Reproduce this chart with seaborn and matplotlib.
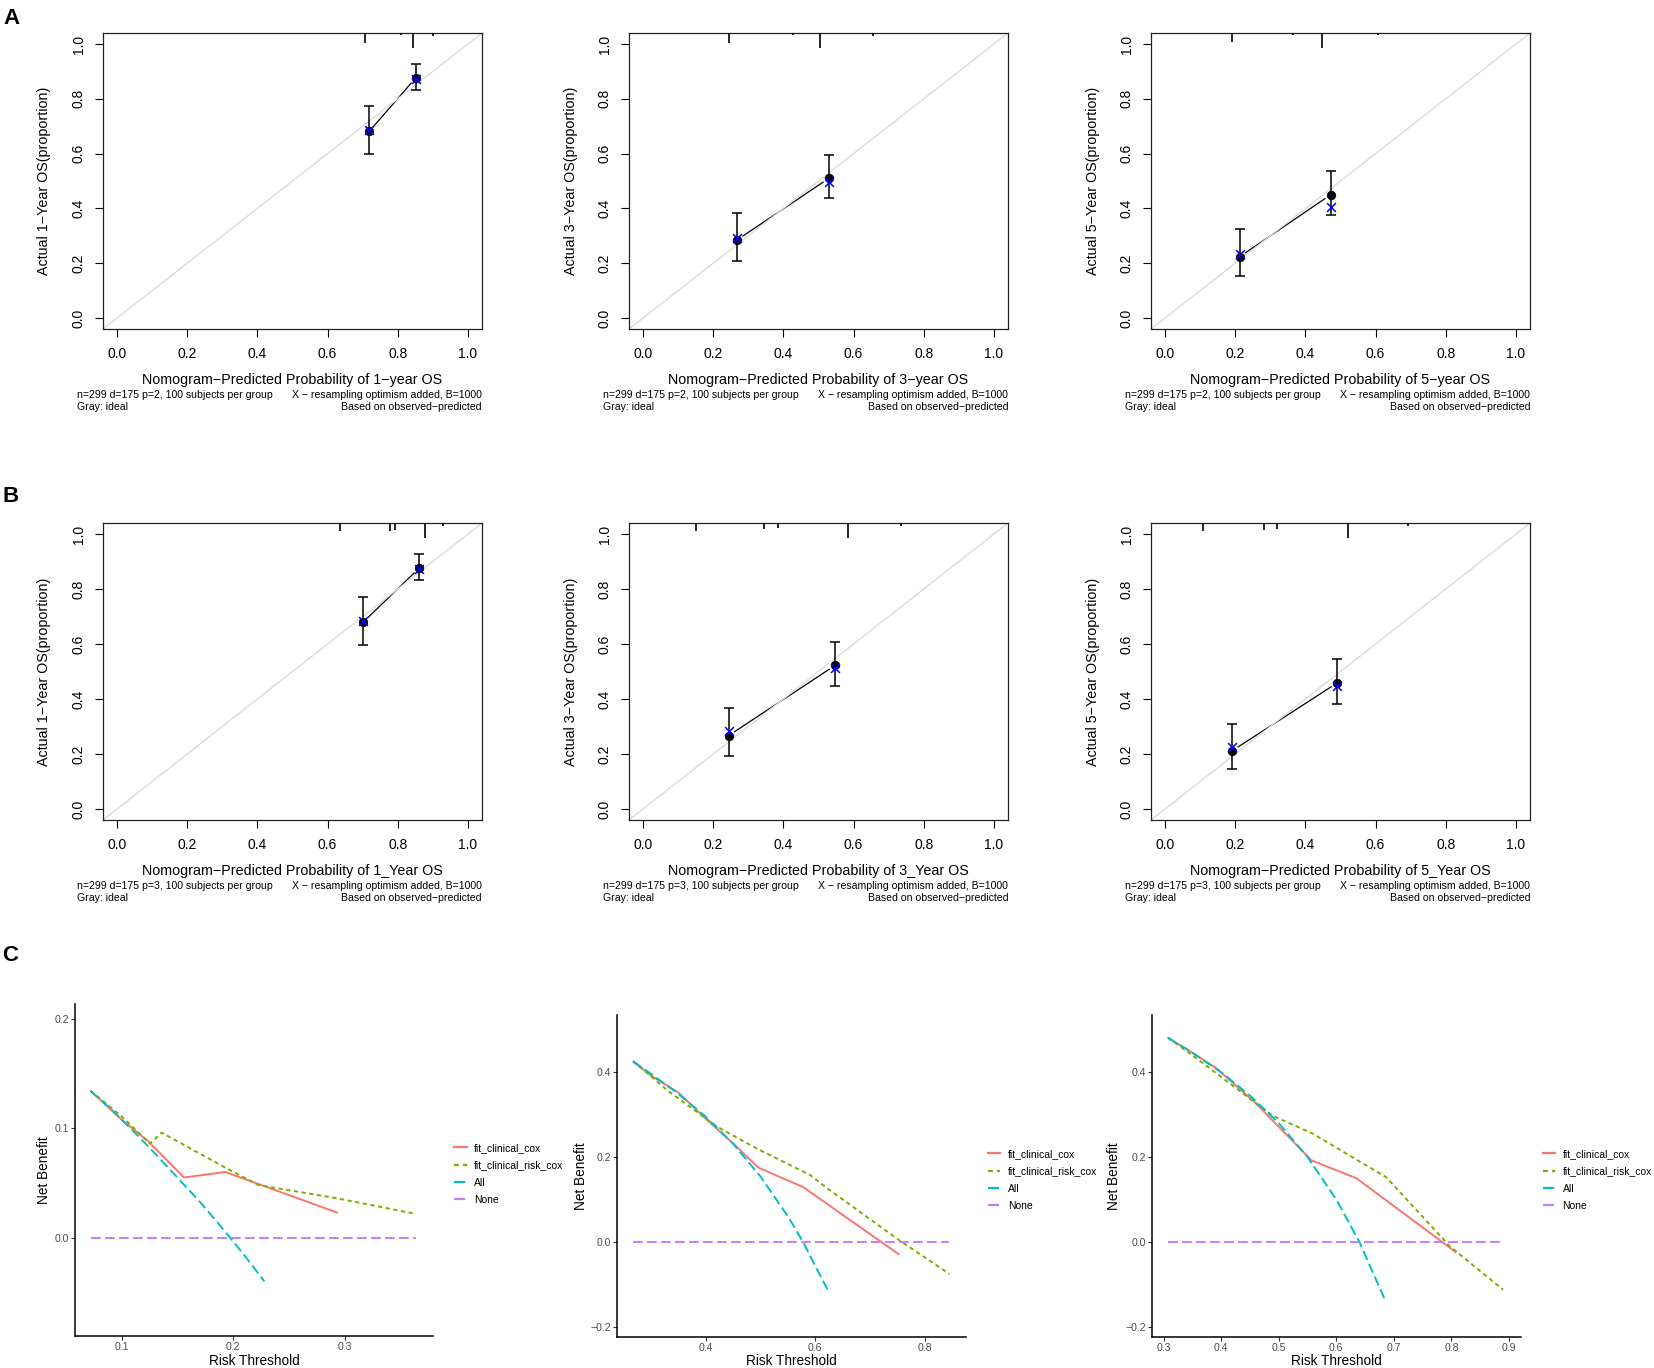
import matplotlib
matplotlib.use("Agg")
import matplotlib.pyplot as plt
from matplotlib.lines import Line2D
import numpy as np
import pandas as pd
import seaborn as sns

W, H, DPI = 1654, 1368, 100
plt.rcParams["font.family"] = ["Liberation Sans", "DejaVu Sans"]

# ---------------- Calibration data (rows A: p=2 model, B: p=3 model) ----------------
A_pred = [[0.7185, 0.851], [0.268, 0.5295], [0.213, 0.472]]
A_obs = [[0.681, 0.876], [0.285, 0.510], [0.224, 0.450]]
A_lo = [[0.599, 0.833], [0.207, 0.438], [0.152, 0.376]]
A_hi = [[0.772, 0.927], [0.384, 0.595], [0.324, 0.537]]
A_corr = [[0.685, 0.873], [0.291, 0.495], [0.233, 0.404]]
A_spike_x = [[0.707, 0.809, 0.844, 0.901], [0.246, 0.426, 0.504, 0.654], [0.191, 0.366, 0.447, 0.608]]
A_spike_h = [[0.65, 0.13, 1.0, 0.2], [0.65, 0.13, 1.0, 0.2], [0.62, 0.13, 1.0, 0.15]]

B_pred = [[0.701, 0.861], [0.244, 0.547], [0.1915, 0.490]]
B_obs = [[0.679, 0.876], [0.267, 0.522], [0.212, 0.458]]
B_lo = [[0.598, 0.834], [0.194, 0.446], [0.1455, 0.383]]
B_hi = [[0.770, 0.927], [0.366, 0.606], [0.309, 0.547]]
B_corr = [[0.682, 0.874], [0.282, 0.512], [0.2255, 0.4485]]
B_spike_x = [[0.635, 0.777, 0.791, 0.877, 0.929], [0.152, 0.345, 0.385, 0.583, 0.735], [0.107, 0.282, 0.318, 0.521, 0.692]]
B_spike_h = [[0.53, 0.53, 0.47, 1.0, 0.2], [0.53, 0.4, 0.33, 1.0, 0.2], [0.53, 0.47, 0.4, 1.0, 0.2]]

A_xlabels = ["Nomogram\u2212Predicted Probability of 1\u2212year OS",
             "Nomogram\u2212Predicted Probability of 3\u2212year OS",
             "Nomogram\u2212Predicted Probability of 5\u2212year OS"]
B_xlabels = ["Nomogram\u2212Predicted Probability of 1_Year OS",
             "Nomogram\u2212Predicted Probability of 3_Year OS",
             "Nomogram\u2212Predicted Probability of 5_Year OS"]
ylabels = ["Actual 1\u2212Year OS(proportion)", "Actual 3\u2212Year OS(proportion)",
           "Actual 5\u2212Year OS(proportion)"]
A_sub = "n=299 d=175 p=2, 100 subjects per group"
B_sub = "n=299 d=175 p=3, 100 subjects per group"
sub_right1 = "X \u2212 resampling optimism added, B=1000"
sub_left2 = "Gray: ideal"
sub_right2 = "Based on observed\u2212predicted"
cal_ticks = [0.0, 0.2, 0.4, 0.6, 0.8, 1.0]
cal_ticklabels = ["0.0", "0.2", "0.4", "0.6", "0.8", "1.0"]

# ---------------- Decision curve data ----------------
models = ["fit_clinical_cox", "fit_clinical_risk_cox", "All", "None"]

C1_cox_x = [0.0725, 0.100, 0.124, 0.156, 0.193, 0.293]
C1_cox_y = [0.134, 0.108, 0.088, 0.055, 0.060, 0.023]
C1_risk_x = [0.0725, 0.100, 0.1255, 0.136, 0.193, 0.223, 0.293, 0.364]
C1_risk_y = [0.134, 0.111, 0.086, 0.096, 0.064, 0.048, 0.036, 0.0216]
C1_all_x = [0.0725, 0.09, 0.11, 0.13, 0.15, 0.17, 0.19, 0.21, 0.228]
C1_all_y = [0.134, 0.118, 0.098, 0.077, 0.055, 0.033, 0.009, -0.016, -0.040]
C1_none_x = [0.0725, 0.364]
C1_none_y = [0.0, 0.0]

C2_cox_x = [0.2675, 0.30, 0.35, 0.40, 0.45, 0.496, 0.578, 0.752]
C2_cox_y = [0.425, 0.392, 0.352, 0.290, 0.232, 0.175, 0.129, -0.029]
C2_risk_x = [0.2675, 0.33, 0.42, 0.496, 0.59, 0.623, 0.754, 0.845]
C2_risk_y = [0.426, 0.357, 0.272, 0.218, 0.158, 0.125, 0.003, -0.076]
C2_all_x = [0.2675, 0.30, 0.35, 0.40, 0.45, 0.50, 0.55, 0.5775, 0.60, 0.622]
C2_all_y = [0.425, 0.396, 0.349, 0.295, 0.231, 0.154, 0.060, 0.0, -0.057, -0.112]
C2_none_x = [0.2675, 0.845]
C2_none_y = [0.0, 0.0]

C3_cox_x = [0.308, 0.35, 0.392, 0.46, 0.557, 0.635, 0.807]
C3_cox_y = [0.481, 0.446, 0.409, 0.327, 0.192, 0.150, -0.024]
C3_risk_x = [0.308, 0.35, 0.392, 0.4536, 0.49, 0.558, 0.687, 0.7975, 0.8897]
C3_risk_y = [0.481, 0.440, 0.397, 0.334, 0.297, 0.256, 0.152, -0.011, -0.113]
C3_all_x = [0.308, 0.35, 0.40, 0.45, 0.50, 0.55, 0.60, 0.64, 0.684]
C3_all_y = [0.481, 0.446, 0.400, 0.345, 0.280, 0.200, 0.100, 0.0, -0.135]
C3_none_x = [0.308, 0.8897]
C3_none_y = [0.0, 0.0]

C1_xticks = [0.1, 0.2, 0.3]
C1_xticklabels = ["0.1", "0.2", "0.3"]
C1_yticks = [0.0, 0.1, 0.2]
C1_yticklabels = ["0.0", "0.1", "0.2"]
C2_xticks = [0.4, 0.6, 0.8]
C2_xticklabels = ["0.4", "0.6", "0.8"]
C23_yticks = [-0.2, 0.0, 0.2, 0.4]
C23_yticklabels = ["\u22120.2", "0.0", "0.2", "0.4"]
C3_xticks = [0.3, 0.4, 0.5, 0.6, 0.7, 0.8, 0.9]
C3_xticklabels = ["0.3", "0.4", "0.5", "0.6", "0.7", "0.8", "0.9"]

palette = {"fit_clinical_cox": "#F8766D", "fit_clinical_risk_cox": "#7CAE00",
           "All": "#00BFC4", "None": "#C77CFF"}
dash_map = {"fit_clinical_cox": "", "fit_clinical_risk_cox": (2.2, 1.8),
            "All": (5.0, 2.2), "None": (5.0, 2.2)}


def rect(l, r, t, b):
    return [l / W, 1 - b / H, (r - l) / W, (b - t) / H]


def fx(px):
    return px / W


def fy(py):
    return 1 - py / H


fig = plt.figure(figsize=(W / DPI, H / DPI), dpi=DPI)


def calib_panel(l, r, t, b, pred, obs, lo, hi, corr, sx, sh, xlabel, ylabel, sub1):
    ax = fig.add_axes(rect(l, r, t, b))
    ax.set_xlim(-0.04, 1.04)
    ax.set_ylim(-0.04, 1.04)
    pred = np.asarray(pred); obs = np.asarray(obs)
    lo = np.asarray(lo); hi = np.asarray(hi)
    # spike histogram of predicted risks at the top
    ax.vlines(sx, 1.04 - np.asarray(sh) * 0.055, 1.04, color="black", lw=1.2, zorder=3)
    # connecting line (type = "b": gaps around the points)
    p = ax.transData.transform(np.column_stack([pred, obs]))
    d = p[1] - p[0]
    u = d / np.hypot(*d)
    gap = 7.0
    seg = ax.transData.inverted().transform(np.array([p[0] + u * gap, p[1] - u * gap]))
    ax.plot(seg[:, 0], seg[:, 1], color="black", lw=0.9, zorder=2)
    # ideal line
    ax.plot([-0.04, 1.04], [-0.04, 1.04], color="#dcdcdc", lw=1.0, zorder=2.5)
    ax.errorbar(pred, obs, yerr=[obs - lo, hi - obs], fmt="none", ecolor="black",
                elinewidth=1.1, capsize=3.5, capthick=1.1, zorder=3)
    sns.scatterplot(x=pred, y=obs, color="black", s=38, marker="o", edgecolor="black",
                    linewidth=0.5, ax=ax, zorder=4, legend=False)
    sns.scatterplot(x=pred, y=np.asarray(corr), color="#0000FF", s=40, marker="x",
                    linewidth=1.1, ax=ax, zorder=5, legend=False)
    ax.set_xticks(cal_ticks, labels=cal_ticklabels, fontsize=10)
    ax.set_yticks(cal_ticks, labels=cal_ticklabels, fontsize=10, rotation=90, va="center")
    ax.tick_params(axis="x", length=6, width=0.8, pad=7.3)
    ax.tick_params(axis="y", length=6, width=0.8, pad=6.3)
    for s in ax.spines.values():
        s.set_linewidth(0.9)
        s.set_color("#222222")
    ax.set_xlabel("")
    ax.set_ylabel("")
    cx = (l + r) / 2
    fig.text(fx(l - 58.5), fy((t + b) / 2), ylabel, rotation=90, ha="center", va="center", fontsize=10.3)
    fig.text(fx(cx), fy(b + 51), xlabel, ha="center", va="center", fontsize=10.3)
    fig.text(fx(l - 26), fy(b + 66), sub1, ha="left", va="center", fontsize=7.6)
    fig.text(fx(r), fy(b + 66), sub_right1, ha="right", va="center", fontsize=7.6)
    fig.text(fx(l - 26), fy(b + 78), sub_left2, ha="left", va="center", fontsize=7.6)
    fig.text(fx(r), fy(b + 78), sub_right2, ha="right", va="center", fontsize=7.6)
    return ax


cols = [(103, 482), (629, 1008), (1151, 1530)]
for i, (l, r) in enumerate(cols):
    calib_panel(l, r, 33, 329, A_pred[i], A_obs[i], A_lo[i], A_hi[i], A_corr[i],
                A_spike_x[i], A_spike_h[i], A_xlabels[i], ylabels[i], A_sub)
    calib_panel(l, r, 523, 820, B_pred[i], B_obs[i], B_lo[i], B_hi[i], B_corr[i],
                B_spike_x[i], B_spike_h[i], B_xlabels[i], ylabels[i], B_sub)


def dca_panel(box, curves, xlim, ylim, xticks, xtl, yticks, ytl, ylab_x, leg_x, leg_y):
    l, r, t, b = box
    ax = fig.add_axes(rect(l, r, t, b))
    frames = []
    for m in models:
        xs, ys = curves[m]
        frames.append(pd.DataFrame({"threshold": xs, "net_benefit": ys, "model": m}))
    df = pd.concat(frames, ignore_index=True)
    sns.lineplot(data=df, x="threshold", y="net_benefit", hue="model", style="model",
                 hue_order=models, style_order=models, palette=palette, dashes=dash_map,
                 linewidth=1.4, estimator=None, errorbar=None, legend=False, ax=ax)
    ax.set_xlim(*xlim)
    ax.set_ylim(*ylim)
    ax.set_xticks(xticks, labels=xtl, fontsize=7.6, color="#4d4d4d")
    ax.set_yticks(yticks, labels=ytl, fontsize=7.6, color="#4d4d4d")
    ax.tick_params(length=2.8, width=0.8, color="#333333", pad=1.5)
    for s in ["top", "right"]:
        ax.spines[s].set_visible(False)
    for s in ["left", "bottom"]:
        ax.spines[s].set_linewidth(1.1)
        ax.spines[s].set_color("black")
    ax.set_xlabel("")
    ax.set_ylabel("")
    fig.text(fx((l + r) / 2), fy(1361), "Risk Threshold", ha="center", va="center", fontsize=9.8)
    fig.text(fx(ylab_x), fy((t + b) / 2), "Net Benefit", rotation=90, ha="center",
             va="center", fontsize=9.8)
    handles = [Line2D([], [], color=palette[m], lw=1.6,
                      dashes=(dash_map[m] if dash_map[m] else (None, None)))
               for m in models]
    handles[0].set_linestyle("-")
    fig.legend(handles, models, loc="center left", bbox_to_anchor=(fx(leg_x), fy(leg_y)),
               bbox_transform=fig.transFigure, frameon=False, borderpad=0, borderaxespad=0,
               handlelength=1.2, handletextpad=0.7, labelspacing=0.7,
               prop={"size": 7.5})
    return ax


dca_panel((75.1, 433.5, 1004, 1336),
          {"fit_clinical_cox": (C1_cox_x, C1_cox_y), "fit_clinical_risk_cox": (C1_risk_x, C1_risk_y),
           "All": (C1_all_x, C1_all_y), "None": (C1_none_x, C1_none_y)},
          (0.0584, 0.3796), (-0.090, 0.2137), C1_xticks, C1_xticklabels,
          C1_yticks, C1_yticklabels, 44.4, 454.3, 1174)
dca_panel((617.1, 966.4, 1015, 1337),
          {"fit_clinical_cox": (C2_cox_x, C2_cox_y), "fit_clinical_risk_cox": (C2_risk_x, C2_risk_y),
           "All": (C2_all_x, C2_all_y), "None": (C2_none_x, C2_none_y)},
          (0.238, 0.876), (-0.2246, 0.535), C2_xticks, C2_xticklabels,
          C23_yticks, C23_yticklabels, 581.4, 987.9, 1180)
dca_panel((1151.9, 1520.5, 1015, 1337),
          {"fit_clinical_cox": (C3_cox_x, C3_cox_y), "fit_clinical_risk_cox": (C3_risk_x, C3_risk_y),
           "All": (C3_all_x, C3_all_y), "None": (C3_none_x, C3_none_y)},
          (0.2797, 0.920), (-0.2246, 0.535), C3_xticks, C3_xticklabels,
          C23_yticks, C23_yticklabels, 1114.1, 1542.7, 1180)

for letter, x0, base in [("A", 3, 24), ("B", 2, 502), ("C", 2, 961)]:
    fig.text(fx(x0), fy(base), letter, ha="left", va="baseline", fontsize=16, fontweight="bold")

fig.savefig("out.png", dpi=DPI)
